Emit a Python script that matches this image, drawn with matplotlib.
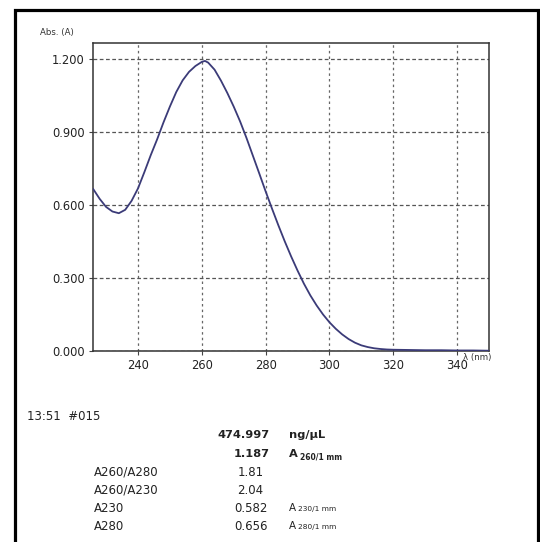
import matplotlib
matplotlib.use("Agg")
import matplotlib.pyplot as plt
from matplotlib.patches import Rectangle

# spectrum
wavelength = [226, 228, 230, 232, 234, 236, 238, 240, 242, 244, 246, 248, 250,
              252, 254, 256, 258, 260, 261, 262, 264, 266, 268, 270, 272, 274,
              276, 278, 280, 282, 284, 286, 288, 290, 292, 294, 296, 298, 300,
              302, 304, 306, 308, 310, 312, 314, 316, 318, 320, 325, 330, 335,
              340, 345, 350]
absorbance = [0.665, 0.625, 0.592, 0.573, 0.566, 0.580, 0.617, 0.668, 0.735,
              0.805, 0.870, 0.940, 1.005, 1.065, 1.113, 1.148, 1.172, 1.189,
              1.193, 1.186, 1.157, 1.112, 1.061, 1.005, 0.944, 0.876, 0.803,
              0.730, 0.656, 0.585, 0.516, 0.450, 0.388, 0.330, 0.276, 0.228,
              0.186, 0.149, 0.117, 0.090, 0.067, 0.048, 0.033, 0.022, 0.015,
              0.010, 0.007, 0.005, 0.004, 0.003, 0.002, 0.002, 0.001, 0.001,
              0.000]

x_ticks = [240, 260, 280, 300, 320, 340]
y_ticks = [0.0, 0.3, 0.6, 0.9, 1.2]

header = "13:51  #015"
conc_value, conc_unit = "474.997", "ng/µL"
a260_value, a260_sub = "1.187", "260/1 mm"
ratio_names = ["A260/A280", "A260/A230"]
ratio_values = ["1.81", "2.04"]
abs_names = ["A230", "A280"]
abs_values = ["0.582", "0.656"]
abs_subs = ["230/1 mm", "280/1 mm"]

W, H = 540, 542
fig = plt.figure(figsize=(W / 100, H / 100), dpi=100)


def fx(px):
    return px / W


def fy(py):
    return 1 - py / H


ax = fig.add_axes([fx(93.3), fy(350.7), fx(489) - fx(93.3), fy(42.7) - fy(350.7)])
ax.plot(wavelength, absorbance, color="#3b3b78", lw=1.3, zorder=3)
ax.set_xlim(226, 350)
ax.set_ylim(0, 1.268)
ax.set_xticks(x_ticks)
ax.set_yticks(y_ticks)
ax.set_yticklabels([f"{v:.3f}" for v in y_ticks])
ax.yaxis.grid(True, color="#555555", lw=0.9, linestyle=(0, (3, 2)))
ax.xaxis.grid(True, color="#666666", lw=0.9, linestyle=(0, (2, 2.5)))
ax.tick_params(labelsize=8.3, colors="#444444", labelcolor="#222222",
               length=3, width=0.8, pad=3)
for s in ax.spines.values():
    s.set_color("#333333")
    s.set_linewidth(1.1)

fig.text(fx(40), fy(32), "Abs. (A)", fontsize=6.2, color="#333333", va="center")
fig.text(fx(491), fy(353), "λ (nm)", fontsize=6.2, color="#333333",
         ha="right", va="top")

# results block
fs = 8.5
fig.text(fx(27), fy(417), header, fontsize=fs, color="#222222", va="center")
fig.text(fx(270), fy(434.5), conc_value, fontsize=8.2, fontweight="bold",
         color="#222222", ha="right", va="center")
fig.text(fx(288.6), fy(434.5), conc_unit, fontsize=8.2, fontweight="bold",
         color="#222222", va="center")
fig.text(fx(270), fy(454), a260_value, fontsize=8.2, fontweight="bold",
         color="#222222", ha="right", va="center")
fig.text(fx(288.6), fy(454), "A", fontsize=8.2, fontweight="bold",
         color="#222222", va="center")
fig.text(fx(300), fy(456.5), a260_sub, fontsize=5.5, fontweight="bold",
         color="#222222", va="center")

row_y = [472, 490, 508, 526]
for i, (n, v) in enumerate(zip(ratio_names, ratio_values)):
    fig.text(fx(93.7), fy(row_y[i]), n, fontsize=fs, color="#222222", va="center")
    fig.text(fx(237.6), fy(row_y[i]), v, fontsize=fs, color="#222222", va="center")
for j, (n, v, sub) in enumerate(zip(abs_names, abs_values, abs_subs)):
    y = row_y[2 + j]
    fig.text(fx(93.7), fy(y), n, fontsize=fs, color="#222222", va="center")
    fig.text(fx(268), fy(y), v, fontsize=fs, color="#222222", ha="right", va="center")
    fig.text(fx(288.6), fy(y), "A", fontsize=7.5, color="#222222", va="center")
    fig.text(fx(298), fy(y + 1.5), sub, fontsize=5.3, color="#222222", va="center")

# outer frame
fig.patches.append(Rectangle((fx(15), fy(560)), fx(538) - fx(15), fy(10) - fy(560),
                             transform=fig.transFigure, fill=False,
                             edgecolor="black", lw=2.3))

fig.savefig("out.png", dpi=100)
